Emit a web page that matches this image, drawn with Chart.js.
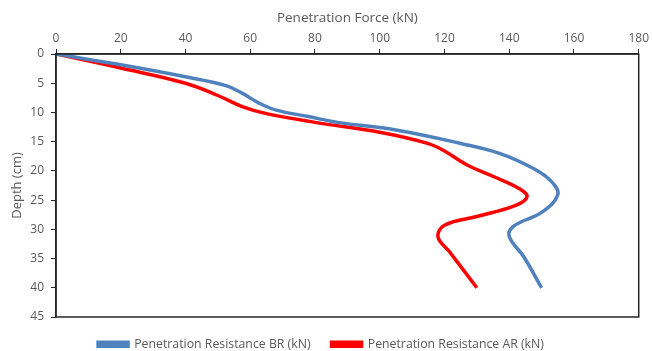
<!DOCTYPE html>
<html>
<head>
<meta charset="utf-8">
<script src="https://cdn.jsdelivr.net/npm/chart.js@4"></script>
<style>
  body { margin: 0; background: #fff; }
  #wrap { width: 652px; height: 351px; position: relative; }
</style>
</head>
<body>
<div id="wrap"><canvas id="chart"></canvas></div>
<script>
// before rehabilitation (blue)
const brForce = [0, 20, 40, 52.5, 57.5, 62.7, 68, 78, 87, 105, 125, 137, 147.5, 153, 155, 150, 141.5, 140, 144.5, 150];
const brDepth = [0, 1.85, 3.9, 5.4, 6.7, 8.4, 9.6, 10.7, 11.7, 13.0, 15.3, 17.0, 19.6, 21.8, 24.1, 27.1, 29.4, 31.2, 34.7, 40];
// after rehabilitation (red)
const arForce = [0, 20, 40, 50, 57.5, 65, 80, 100, 114.8, 120, 127, 135.3, 143, 145.5, 142, 130, 120, 118, 121.5, 130];
const arDepth = [0, 2.4, 5.0, 7.1, 9.0, 10.2, 11.7, 13.4, 15.3, 16.6, 19.0, 21.0, 23.0, 24.4, 25.9, 27.8, 29.3, 31.3, 33.8, 40];

const xTicks = [0, 20, 40, 60, 80, 100, 120, 140, 160, 180];
const yTicks = [0, 5, 10, 15, 20, 25, 30, 35, 40, 45];

const textColor = "#595959";
const fontName = "'Open Sans', sans-serif";

function toPoints(xs, ys) {
    return xs.map((x, i) => ({ x: x, y: ys[i] }));
}

// box around the plot area, like Excel
const frame = {
    id: "frame",
    beforeLayout(chart) {
        // keep the legend short so it sits close under the plot
        const legend = chart.legend;
        if (legend && !legend._patched) {
            const fit = legend.fit;
            legend.fit = function () {
                fit.call(this);
                this.height = 34;
            };
            legend._patched = true;
        }
    },
    afterDraw(chart) {
        const a = chart.chartArea;
        const c = chart.ctx;
        c.save();
        c.strokeStyle = "#262626";
        c.lineWidth = 1.5;
        c.strokeRect(a.left, a.top, a.right - a.left, a.bottom - a.top);
        c.restore();
    }
};

const ctx = document.getElementById("chart");
new Chart(ctx, {
    type: "scatter",
    data: {
        datasets: [
            {
                label: "Penetration Resistance BR (kN)",
                data: toPoints(brForce, brDepth),
                showLine: true,
                borderColor: "#4f81bd",
                backgroundColor: "#4f81bd",
                borderWidth: 3.5,
                pointRadius: 0,
                tension: 0.4,
            },
            {
                label: "Penetration Resistance AR (kN)",
                data: toPoints(arForce, arDepth),
                showLine: true,
                borderColor: "#ff0000",
                backgroundColor: "#ff0000",
                borderWidth: 3.5,
                pointRadius: 0,
                tension: 0.4,
            },
        ],
    },
    options: {
        responsive: true,
        maintainAspectRatio: false,
        animation: false,
        layout: { padding: { left: 0, right: 10, top: 0, bottom: 0 } },
        plugins: {
            tooltip: { enabled: false },
            legend: {
                position: "bottom",
                labels: {
                    boxWidth: 30,
                    boxHeight: 4,
                    padding: 21,
                    color: textColor,
                    font: { family: fontName, size: 12.3 },
                },
            },
        },
        scales: {
            x: {
                position: "top",
                min: 0,
                max: 180,
                afterBuildTicks: (s) => { s.ticks = xTicks.map(v => ({ value: v })); },
                afterFit: (s) => { s.height = 54; },
                ticks: { color: textColor, padding: 3, font: { family: fontName, size: 12 } },
                grid: { drawOnChartArea: false, tickLength: 5, color: "#262626", lineWidth: 1 },
                border: { color: "#262626", width: 1.5 },
                title: {
                    display: true,
                    text: "Penetration Force (kN)",
                    color: textColor,
                    padding: { top: 10, bottom: 0 },
                    font: { family: fontName, size: 13.5 },
                },
            },
            y: {
                reverse: true,
                min: 0,
                max: 45,
                afterBuildTicks: (s) => { s.ticks = yTicks.map(v => ({ value: v })); },
                afterFit: (s) => { s.width = 56; },
                ticks: { color: textColor, padding: 7, font: { family: fontName, size: 12 } },
                grid: { drawOnChartArea: false, tickLength: 5, color: "#262626", lineWidth: 1 },
                border: { color: "#262626", width: 1.5 },
                title: {
                    display: true,
                    text: "Depth (cm)",
                    color: textColor,
                    padding: { top: 9, bottom: 0 },
                    font: { family: fontName, size: 13 },
                },
            },
        },
    },
    plugins: [frame],
});
</script>
</body>
</html>
